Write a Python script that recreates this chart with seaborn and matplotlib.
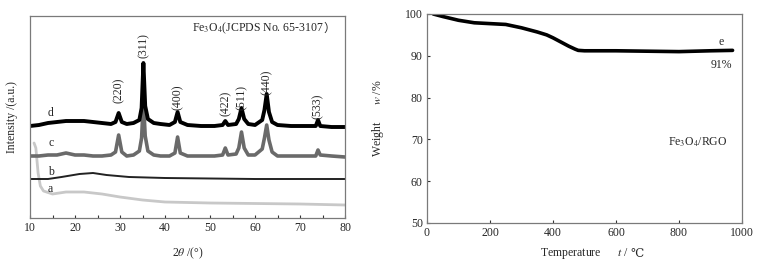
import matplotlib
matplotlib.use('Agg')
import matplotlib.pyplot as plt
from matplotlib.ticker import MultipleLocator
import numpy as np
import pandas as pd
import seaborn as sns

# XRD curves (2theta, relative intensity in arbitrary units)
d_x = [10, 12, 14, 16, 18, 20, 22, 24, 26, 28, 29.0, 29.7, 30.4, 31.5, 33, 34.3, 34.8, 35.2,
       35.6, 36.2, 37.5, 39, 41, 42.2, 42.8, 43.4, 45, 48, 51, 52.8, 53.4, 54, 55.8, 56.4, 57.0,
       57.6, 58.5, 60, 61.6, 62.1, 62.6, 63.1, 63.8, 65, 68, 71, 73.5, 74, 74.5, 77, 80]
d_y = [92, 93, 95, 96, 97, 97, 97, 96, 95, 94, 96, 105, 96, 94, 95, 98, 110, 155,
       112, 99, 95, 94, 93, 96, 106, 96, 93, 92, 92, 93, 97, 93, 94, 99, 110,
       99, 94, 93, 98, 108, 124, 106, 96, 93, 92, 92, 92, 98, 92, 91, 91]

c_x = [10, 12, 14, 16, 18, 20, 22, 24, 26, 28, 29.0, 29.7, 30.4, 31.5, 33, 34.3, 34.8, 35.2,
       35.6, 36.2, 37.5, 39, 41, 42.2, 42.8, 43.4, 45, 48, 51, 52.8, 53.4, 54, 55.8, 56.4, 57.0,
       57.6, 58.5, 60, 61.6, 62.1, 62.6, 63.1, 63.8, 65, 68, 71, 73.5, 74, 74.5, 77, 80]
c_y = [62, 62, 63, 63, 65, 63, 63, 62, 62, 63, 66, 83, 66, 62, 63, 67, 80, 118,
       82, 67, 63, 62, 62, 65, 81, 65, 62, 62, 62, 63, 70, 63, 64, 70, 86,
       70, 63, 63, 69, 80, 93, 78, 66, 62, 62, 62, 62, 68, 63, 62, 61]

b_x = [10, 14, 17, 21, 24, 27, 32, 40, 50, 60, 70, 80]
b_y = [39, 39, 41, 44, 45, 43, 41, 40, 39.5, 39, 39, 39]

a_x = [10.9, 11.3, 11.8, 12.3, 13, 15, 18, 22, 26, 30, 35, 40, 50, 60, 70, 80]
a_y = [75, 70, 45, 32, 27, 24, 26, 26, 24, 21, 18, 16, 15, 14.5, 14, 13]

peak_pos = [29.7, 35.2, 42.8, 53.4, 57.0, 62.6, 74.0]
peak_hkl = ['(220)', '(311)', '(400)', '(422)', '(511)', '(440)', '(533)']
peak_label_y = [128, 172, 121, 115, 121, 136, 112]

curve_names = ['a', 'b', 'c', 'd']
curve_label_y = [29, 46, 75, 105]

# TGA curve e
tga_t = [20, 50, 100, 150, 200, 250, 300, 350, 380, 400, 420, 450, 470, 480, 500,
         600, 700, 800, 900, 970]
tga_w = [100, 99.4, 98.5, 97.9, 97.7, 97.5, 96.7, 95.7, 95.0, 94.3, 93.5, 92.3, 91.6, 91.3, 91.2,
         91.2, 91.1, 91.0, 91.2, 91.3]

sns.set_style('ticks')
plt.rcParams['font.family'] = ['Liberation Serif', 'DejaVu Serif', 'Noto Sans CJK SC']
plt.rcParams['mathtext.fontset'] = 'stix'
plt.rcParams['font.size'] = 8.5

fig = plt.figure(figsize=(7.66, 2.64), dpi=100)
ax1 = fig.add_axes([30 / 766, 46 / 264, 315 / 766, 202 / 264])
ax2 = fig.add_axes([427 / 766, 41 / 264, 315 / 766, 209 / 264])

spine_col = '#7a7a7a'

# left: XRD
sns.lineplot(x=a_x, y=a_y, ax=ax1, color='#c8c8c8', linewidth=2.0, sort=False)
sns.lineplot(x=b_x, y=b_y, ax=ax1, color='#222222', linewidth=1.4, sort=False)
sns.lineplot(x=c_x, y=c_y, ax=ax1, color='#6a6a6a', linewidth=2.6, sort=False)
sns.lineplot(x=d_x, y=d_y, ax=ax1, color='#000000', linewidth=2.8, sort=False)

for pos, hkl, ly in zip(peak_pos, peak_hkl, peak_label_y):
    ax1.text(pos, ly, hkl, rotation=90, ha='center', va='center', fontsize=8.5)
for name, ly in zip(curve_names, curve_label_y):
    ax1.text(14.6, ly, name, ha='center', va='center', fontsize=8.5)
t_fe = ax1.text(46, 190, 'Fe$_3$O$_4$(JCPDS No. 65-3107', ha='left', va='center', fontsize=8.5)
ax1.annotate('）', xy=(1, 0.5), xycoords=t_fe, ha='left', va='center', fontsize=8.5,
             family=['Noto Sans CJK SC'])

ax1.set_xlim(10, 80)
ax1.set_ylim(0, 202)
ax1.set_yticks([])
ax1.xaxis.set_major_locator(MultipleLocator(10))
ax1.xaxis.set_minor_locator(MultipleLocator(5))
ax1.tick_params(axis='x', which='both', direction='in', length=2.5, width=0.8,
                color='#333333', labelsize=8.5, pad=3)
ax1.set_xlabel(r'2$\theta$ /(°)', fontsize=8.5, labelpad=8)
ax1.set_ylabel('Intensity /(a.u.)', fontsize=8.5, labelpad=9)

# right: TGA
sns.lineplot(x=tga_t, y=tga_w, ax=ax2, color='#000000', linewidth=2.6, sort=False)
ax2.text(933, 93.3, 'e', ha='center', va='center', fontsize=8.5)
ax2.text(933, 87.9, '91%', ha='center', va='center', fontsize=8.5)
ax2.text(860, 69.4, 'Fe$_3$O$_4$/RGO', ha='center', va='center', fontsize=8.5)
ax2.set_xlim(0, 1000)
ax2.set_ylim(50, 100)
ax2.xaxis.set_major_locator(MultipleLocator(200))
ax2.yaxis.set_major_locator(MultipleLocator(10))
ax2.tick_params(axis='both', direction='in', length=2.5, width=0.8, color='#333333',
                labelsize=8.5, pad=3)
ax2.set_xlabel('Temperature      $t$ /', fontsize=8.5, labelpad=5)
ax2.annotate('℃', xy=(1, 0.5), xycoords=ax2.xaxis.label, xytext=(1, 0),
             textcoords='offset points', ha='left', va='center', fontsize=8.5,
             family=['DejaVu Serif'])
ax2.set_ylabel('Weight      $w$ /%', fontsize=8.5, labelpad=14)

for ax in (ax1, ax2):
    for sp in ax.spines.values():
        sp.set_visible(True)
        sp.set_color(spine_col)
        sp.set_linewidth(0.9)

fig.savefig('out.png', dpi=100)
